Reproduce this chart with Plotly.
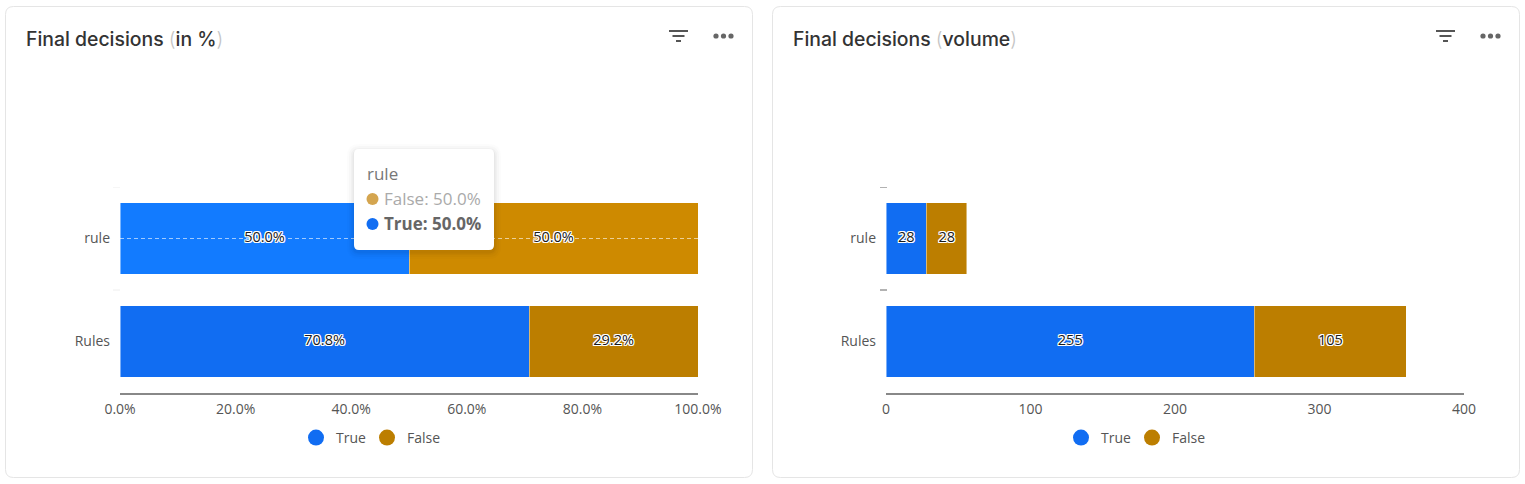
import plotly.graph_objects as go

W, H = 1525, 484

categories = ['Rules', 'rule']
pct_true = [70.8, 50.0]
pct_false = [29.2, 50.0]
vol_true = [255, 28]
vol_false = [105, 28]
pct_ticks = [0, 20, 40, 60, 80, 100]
vol_ticks = [0, 100, 200, 300, 400]

BLUE = '#116DF2'
BROWN = '#BC7E00'
BLUE_HOVER = '#127BFF'
BROWN_HOVER = '#CE8A00'
TEXT = '#555555'
FONT = 'Open Sans'
TITLE_FONT = 'Inter'
PAREN = "<span style='color:#c4c4c4;font-weight:300'>%s</span>"


def px(x):
    return x / W


def py(y):
    return 1 - y / H


def rounded(x0, y0, x1, y1, r):
    # rounded rectangle path, in paper coordinates, from page pixels
    a, b, c, d = px(x0), py(y0), px(x1), py(y1)
    rx, ry = r / W, r / H
    return (f'M {a + rx} {b} L {c - rx} {b} Q {c} {b} {c} {b - ry} '
            f'L {c} {d + ry} Q {c} {d} {c - rx} {d} '
            f'L {a + rx} {d} Q {a} {d} {a} {d + ry} '
            f'L {a} {b - ry} Q {a} {b} {a + rx} {b} Z')


def paper_line(x0, y0, x1, y1, color, width):
    return dict(type='line', xref='paper', yref='paper', x0=px(x0), x1=px(x1),
                y0=py(y0), y1=py(y1), line=dict(color=color, width=width))


def dot(cx, cy, r, color):
    return dict(type='circle', xref='paper', yref='paper', x0=px(cx - r), x1=px(cx + r),
                y0=py(cy - r), y1=py(cy + r), fillcolor=color, line=dict(width=0))


def paper_text(x, y, text, size, color, font=FONT, weight=None):
    return dict(xref='paper', yref='paper', x=px(x), y=py(y), text=text, showarrow=False,
                xanchor='left', yanchor='middle',
                font=dict(family=font, size=size, color=color, weight=weight))


fig = go.Figure()

halo = ('1px 0 0 #fff, -1px 0 0 #fff, 0 1px 0 #fff, 0 -1px 0 #fff, '
        '1px 1px 0 #fff, -1px -1px 0 #fff, 1px -1px 0 #fff, -1px 1px 0 #fff')


def add_panel(xa, ya, trues, falses, true_colors, false_colors, fmt, legend):
    edge = dict(color='rgba(255,255,255,0.45)', width=1)
    fig.add_trace(go.Bar(y=categories, x=trues, orientation='h', xaxis=xa, yaxis=ya,
                         marker=dict(color=true_colors, line=edge), showlegend=False))
    fig.add_trace(go.Bar(y=categories, x=falses, orientation='h', xaxis=xa, yaxis=ya,
                         marker=dict(color=false_colors, line=edge), showlegend=False))
    if legend == 'legend':
        # crosshair sits under the value labels
        fig.add_trace(go.Scatter(x=[0, 100], y=['rule', 'rule'], mode='lines', xaxis=xa, yaxis=ya,
                                 line=dict(color='rgba(255,255,255,0.6)', width=1, dash='4px,3px'),
                                 showlegend=False))
    xs = [t / 2 for t in trues] + [t + f / 2 for t, f in zip(trues, falses)]
    labels = [fmt(v) for v in trues + falses]
    fig.add_trace(go.Scatter(x=xs, y=categories + categories, mode='text', text=labels, xaxis=xa, yaxis=ya,
                             textposition='middle center', showlegend=False,
                             textfont=dict(family=FONT, size=14.5, color='#1a1a1a', shadow=halo)))
    fig.add_trace(go.Scatter(x=[None], y=[None], name='True', mode='markers', xaxis=xa, yaxis=ya, legend=legend,
                             legendwidth=26, marker=dict(symbol='circle', size=16, color=BLUE)))
    fig.add_trace(go.Scatter(x=[None], y=[None], name='False', mode='markers', xaxis=xa, yaxis=ya, legend=legend,
                             legendwidth=40, marker=dict(symbol='circle', size=16, color=BROWN)))


add_panel('x', 'y', pct_true, pct_false, [BLUE, BLUE_HOVER], [BROWN, BROWN_HOVER],
          lambda v: f'{v:.1f}%', 'legend')
add_panel('x2', 'y2', vol_true, vol_false, BLUE, BROWN, lambda v: f'{v}', 'legend2')

x_common = dict(showgrid=False, zeroline=False, showline=True, linecolor='#888888', linewidth=2,
                ticks='', ticklabelstandoff=2, tickfont=dict(family=FONT, size=14, color=TEXT))
y_common = dict(type='category', categoryorder='array', categoryarray=categories, range=[-0.5, 1.5],
                showgrid=False, zeroline=False, showline=False, ticks='', ticklabelstandoff=9,
                tickfont=dict(family=FONT, size=14, color=TEXT))
y_domain = [py(393), py(187)]

shapes = []
annotations = []

# cards
for x0, x1 in [(5.5, 752.5), (772.5, 1519.5)]:
    shapes.append(dict(type='path', xref='paper', yref='paper', layer='below', path=rounded(x0, 6.5, x1, 477.5, 8),
                       fillcolor='#ffffff', line=dict(color='#e5e5e5', width=1)))

# icons in the card headers
for off in (0, 767):
    shapes.append(paper_line(669 + off, 31, 688 + off, 31, '#555555', 2))
    shapes.append(paper_line(672.5 + off, 36, 684.5 + off, 36, '#555555', 2))
    shapes.append(paper_line(676 + off, 41, 681 + off, 41, '#555555', 2))
    for cx in (716, 723.5, 731):
        shapes.append(dot(cx + off, 36, 2.6, '#666666'))

# band ticks on the y axes
for yval in (0.5, 1.5):
    shapes.append(dict(type='line', xref='paper', yref='y', x0=px(113), x1=px(120), y0=yval, y1=yval,
                       line=dict(color='#eeeeee', width=1)))
    shapes.append(dict(type='line', xref='paper', yref='y2', x0=px(880), x1=px(887), y0=yval, y1=yval,
                       line=dict(color='#666666', width=1)))

# tooltip with a soft shadow
for grow, alpha in [(7, 0.012), (5, 0.018), (3, 0.025), (1.5, 0.035)]:
    shapes.append(dict(type='path', xref='paper', yref='paper',
                       path=rounded(354 - grow, 149 - grow + 2, 494 + grow, 250 + grow + 2, 5 + grow),
                       fillcolor=f'rgba(0,0,0,{alpha})', line=dict(width=0)))
shapes.append(dict(type='path', xref='paper', yref='paper', path=rounded(354, 149, 494, 250, 5),
                   fillcolor='#ffffff', line=dict(width=0)))
shapes.append(dot(372.5, 199, 6, '#D4A54F'))
shapes.append(dot(372.5, 224, 6, BLUE))

annotations += [
    paper_text(23.5, 39, f"Final decisions {PAREN % '('}in %{PAREN % ')'}", 19.4, '#333333', TITLE_FONT, 500),
    paper_text(790.5, 39, f"Final decisions {PAREN % '('}volume{PAREN % ')'}", 19.4, '#333333', TITLE_FONT, 500),
    paper_text(365, 173, 'rule', 17, '#777777'),
    paper_text(381.5, 198, 'False: 50.0%', 17, '#aaaaaa'),
    paper_text(381.5, 223, '<b>True: 50.0%</b>', 17, '#666666'),
]

legend_common = dict(orientation='h', xanchor='left', yanchor='middle', y=py(438), bgcolor='rgba(0,0,0,0)',
                     traceorder='normal', itemwidth=30, tracegroupgap=0,
                     font=dict(family=FONT, size=14, color=TEXT))

fig.update_layout(
    width=W, height=H, margin=dict(l=0, r=0, t=0, b=0, autoexpand=False),
    paper_bgcolor='white', plot_bgcolor='rgba(0,0,0,0)',
    barmode='stack', bargap=0.305,
    xaxis=dict(domain=[px(120), px(698)], anchor='y', range=[0, 100], tickvals=pct_ticks,
               ticktext=[f'{v:.1f}%' for v in pct_ticks], **x_common),
    xaxis2=dict(domain=[px(886), px(1464)], anchor='y2', range=[0, 400], tickvals=vol_ticks, **x_common),
    yaxis=dict(domain=y_domain, anchor='x', **y_common),
    yaxis2=dict(domain=y_domain, anchor='x2', **y_common),
    legend=dict(x=px(296), **legend_common),
    legend2=dict(x=px(1061), **legend_common),
    shapes=shapes, annotations=annotations,
)

fig.write_html('out.html', config=dict(displayModeBar=False),
               post_script="document.body.style.margin='0';document.body.style.overflow='hidden';")
